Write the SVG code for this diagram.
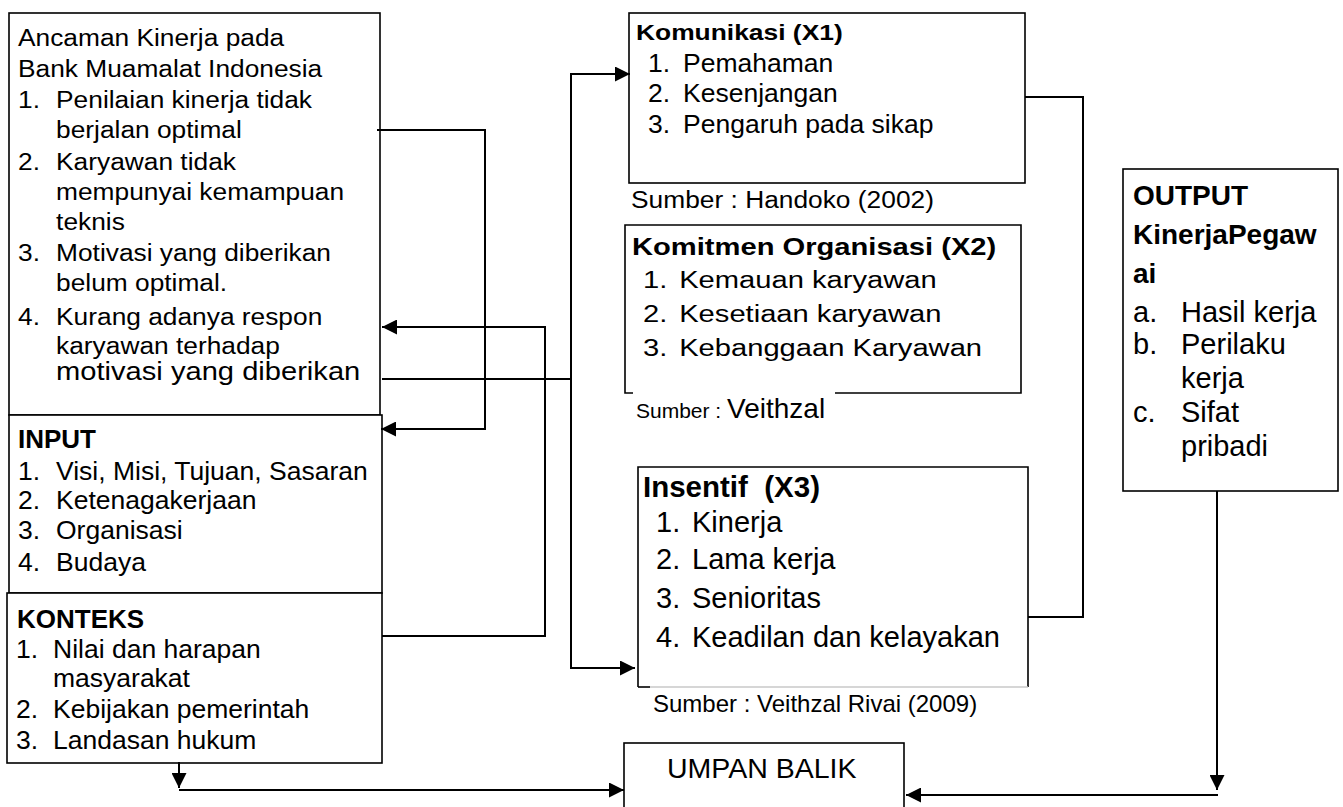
<svg xmlns="http://www.w3.org/2000/svg" width="1343" height="807" viewBox="0 0 1343 807">
<style>
text{font-family:"Liberation Sans",Arial,sans-serif;fill:#000}
.b{font-weight:bold}
.box{fill:#fff;stroke:#000;stroke-width:1.6}
.ln{fill:none;stroke:#000;stroke-width:2}
.arr{marker-end:url(#ah)}
</style>
<defs>
<marker id="ah" viewBox="0 0 15 15" refX="15" refY="7.5" markerWidth="15" markerHeight="15" markerUnits="userSpaceOnUse" orient="auto">
<path d="M0,0 L15,7.5 L0,15 z" fill="#000"/>
</marker>
</defs>
<rect width="1343" height="807" fill="#fff"/>

<g id="ancaman">
<rect class="box" x="9" y="13" width="371" height="402"/>
<g transform="matrix(1.12 0 0 1 18 0)" font-size="23.5">
<text x="0" y="46.5">Ancaman Kinerja pada</text>
<text x="0" y="77">Bank Muamalat Indonesia</text>
<text x="0" y="108">1.</text><text x="34" y="108">Penilaian kinerja tidak</text>
<text x="34" y="138">berjalan optimal</text>
<text x="0" y="170">2.</text><text x="34" y="170">Karyawan tidak</text>
<text x="34" y="200">mempunyai kemampuan</text>
<text x="34" y="230">teknis</text>
<text x="0" y="261">3.</text><text x="34" y="261">Motivasi yang diberikan</text>
<text x="34" y="291">belum optimal.</text>
<text x="0" y="325">4.</text><text x="34" y="325">Kurang adanya respon</text>
<text x="34" y="354">karyawan terhadap</text>
<text x="34" y="380" font-size="26">motivasi yang diberikan</text>
</g>
</g>

<g id="input">
<rect class="box" x="9" y="415" width="373" height="178"/>
<text class="b" x="18" y="448" font-size="26">INPUT</text>
<g font-size="26.5">
<text x="18" y="480">1.</text><text x="56" y="480">Visi, Misi, Tujuan, Sasaran</text>
<text x="18" y="509">2.</text><text x="56" y="509">Ketenagakerjaan</text>
<text x="18" y="539">3.</text><text x="56" y="539">Organisasi</text>
<text x="18" y="571">4.</text><text x="56" y="571">Budaya</text>
</g>
</g>

<g id="konteks">
<rect class="box" x="7" y="593" width="375" height="170"/>
<text class="b" x="17" y="628" font-size="26">KONTEKS</text>
<g font-size="26.5">
<text x="16" y="658">1.</text><text x="53" y="658">Nilai dan harapan</text>
<text x="53" y="687">masyarakat</text>
<text x="16" y="718">2.</text><text x="53" y="718">Kebijakan pemerintah</text>
<text x="16" y="749">3.</text><text x="53" y="749">Landasan hukum</text>
</g>
</g>

<g id="komunikasi">
<rect class="box" x="629" y="13" width="396" height="170"/>
<text class="b" transform="matrix(1.2 0 0 1 636 40)" font-size="22">Komunikasi (X1)</text>
<g font-size="26.5">
<text x="648" y="72">1.</text><text x="683" y="72">Pemahaman</text>
<text x="648" y="102">2.</text><text x="683" y="102">Kesenjangan</text>
<text x="648" y="133">3.</text><text x="683" y="133">Pengaruh pada sikap</text>
</g>
<text transform="matrix(1.13 0 0 1 631 208)" font-size="23.3">Sumber : Handoko (2002)</text>
</g>

<g id="komitmen">
<path d="M633,393 H625 V225 H1021 V393 H835" fill="#fff" stroke="#000" stroke-width="1.6"/>
<g transform="matrix(1.18 0 0 1 632 0)" font-size="24.7">
<text class="b" x="0" y="255">Komitmen Organisasi (X2)</text>
<text x="9.3" y="288">1.</text><text x="40" y="288">Kemauan karyawan</text>
<text x="9.3" y="322">2.</text><text x="40" y="322">Kesetiaan karyawan</text>
<text x="9.3" y="356">3.</text><text x="40" y="356">Kebanggaan Karyawan</text>
</g>
<text x="636" y="418"><tspan font-size="21">Sumber : </tspan><tspan font-size="28">Veithzal</tspan></text>
</g>

<g id="insentif">
<rect x="638" y="467" width="390" height="220" fill="#fff" stroke="none"/>
<path d="M638,687 V467 H1028 V687" fill="none" stroke="#000" stroke-width="1.6"/>
<path d="M650,687 H1028" fill="none" stroke="#c8c8c8" stroke-width="1.6"/>
<path d="M638,687 H650" fill="none" stroke="#000" stroke-width="1.6"/>
<text class="b" x="643" y="497" font-size="29.5">Insentif&#160; (X3)</text>
<g font-size="29">
<text x="656" y="532">1.</text><text x="692" y="532">Kinerja</text>
<text x="656" y="569">2.</text><text x="692" y="569">Lama kerja</text>
<text x="656" y="608">3.</text><text x="692" y="608">Senioritas</text>
<text x="656" y="647">4.</text><text x="692" y="647">Keadilan dan kelayakan</text>
</g>
<text x="653" y="712" font-size="24">Sumber : Veithzal Rivai (2009)</text>
</g>

<g id="output">
<rect class="box" x="1123" y="169" width="215" height="322"/>
<g class="b" font-size="28">
<text x="1133" y="205">OUTPUT</text>
<text x="1133" y="244">KinerjaPegaw</text>
<text x="1133" y="283">ai</text>
</g>
<g font-size="29">
<text x="1133" y="322">a.</text><text x="1181" y="322">Hasil kerja</text>
<text x="1133" y="354">b.</text><text x="1181" y="354">Perilaku</text>
<text x="1181" y="388">kerja</text>
<text x="1133" y="422">c.</text><text x="1181" y="422">Sifat</text>
<text x="1181" y="456">pribadi</text>
</g>
</g>

<g id="umpan-balik">
<rect class="box" x="624" y="743" width="280" height="80"/>
<text x="667" y="778" font-size="28.5">UMPAN BALIK</text>
</g>

<g id="connectors">
<path class="ln arr" d="M377,130 H485 V429 H381"/>
<path class="ln arr" d="M382,636 H545 V327 H382"/>
<path class="ln" d="M382,379 H571"/>
<path class="ln arr" d="M571,379 V74 H630"/>
<path class="ln arr" d="M571,379 V668 H635"/>
<path class="ln" d="M1025,97 H1083 V617 H1028"/>
<path class="ln arr" d="M179,762 V788"/>
<path class="ln" d="M179,790 H610"/>
<path class="ln arr" d="M600,790 H624"/>
<path class="ln arr" d="M1217,491 V790"/>
<path class="ln" d="M1218,795 H920"/>
<path class="ln arr" d="M930,795 H906"/>
</g>
</svg>
